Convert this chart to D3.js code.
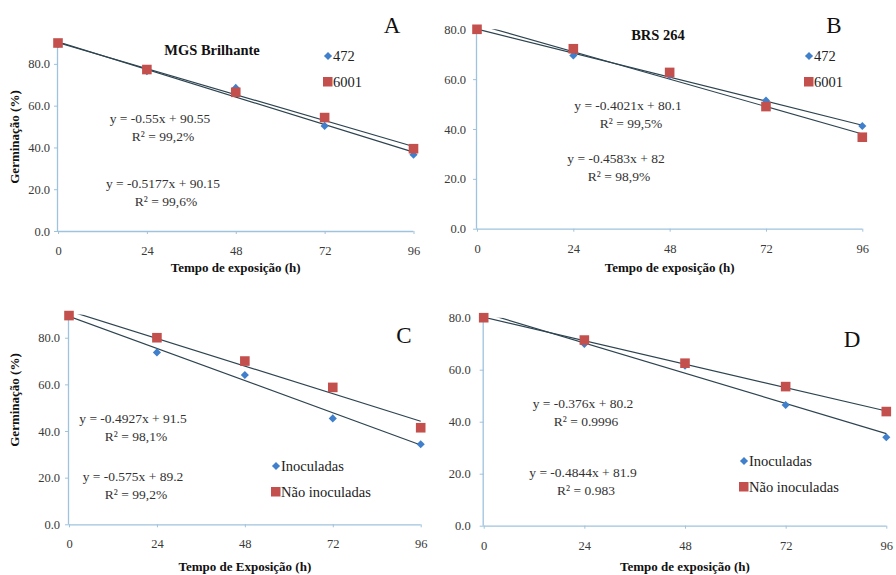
<!DOCTYPE html>
<html><head><meta charset="utf-8">
<script src="https://cdn.jsdelivr.net/npm/d3@7"></script>
<style>body{margin:0;background:#fff}svg{display:block}svg text{font-family:"Liberation Serif","Times New Roman",serif !important}</style>
</head><body><svg id="c" width="896" height="575"></svg>
<script>
// ---------- data ----------
const hours = [0, 24, 48, 72, 96];
const yTicks = [0, 20, 40, 60, 80];

const a472  = [89.5, 76.5, 68.5, 50.3, 36.5];
const a6001 = [90.0, 77.3, 66.4, 54.3, 39.4];
const b472  = [80.0, 69.5, 61.5, 51.4, 41.2];
const b6001 = [80.0, 72.2, 62.7, 49.0, 36.7];
const cInoc = [89.5, 73.7, 64.0, 45.4, 34.3];
const cNao  = [89.5, 80.0, 70.0, 58.7, 41.4];
const dInoc = [80.0, 69.9, 61.5, 46.4, 34.0];
const dNao  = [80.0, 71.4, 62.5, 53.5, 43.9];

const legendAB = ["472", "6001"];
const legendCD = ["Inoculadas", "Não inoculadas"];

// trend lines: [slope, intercept] for series1 (diamond), series2 (square)
const trendA = [[-0.55, 90.55], [-0.5177, 90.15]];
const trendB = [[-0.4021, 80.1], [-0.4583, 82]];
const trendC = [[-0.575, 89.2], [-0.4927, 91.5]];
const trendD = [[-0.4844, 81.9], [-0.376, 80.2]];

const eqA = [["y = -0.55x + 90.55", "R² = 99,2%"], ["y = -0.5177x + 90.15", "R² = 99,6%"]];
const eqB = [["y = -0.4021x + 80.1", "R² = 99,5%"], ["y = -0.4583x + 82", "R² = 98,9%"]];
const eqC = [["y = -0.4927x + 91.5", "R² = 98,1%"], ["y = -0.575x + 89.2", "R² = 99,2%"]];
const eqD = [["y = -0.376x + 80.2", "R² = 0.9996"], ["y = -0.4844x + 81.9", "R² = 0.983"]];

const titles = ["MGS Brilhante", "BRS 264", "", ""];
const letters = ["A", "B", "C", "D"];
const xTitles = ["Tempo de exposição (h)", "Tempo de exposição (h)", "Tempo de Exposição (h)", "Tempo de exposição (h)"];
const yTitle = "Germinação (%)";

// ---------- layout ----------
const panels = [
  {s1: a472, s2: a6001, tr: trendA, eq: eqA, leg: legendAB, ymax: 90, x0: 58, x1: 413.5, yb: 231, yt: 43,
   eqPos: [[160, 118], [163, 183]], legPos: [328, 56], letterPos: [392, 33], titlePos: [212, 55], xtY: 272, ytPos: [14, 137], ylabGap: 8},
  {s1: b472, s2: b6001, tr: trendB, eq: eqB, leg: legendAB, ymax: 80, x0: 477, x1: 862.3, yb: 228.7, yt: 29.3,
   eqPos: [[628, 105], [616, 158]], legPos: [809, 56], letterPos: [834, 33], titlePos: [658, 40], xtY: 272, ytPos: null, ylabGap: 11},
  {s1: cInoc, s2: cNao, tr: trendC, eq: eqC, leg: legendCD, ymax: 90, x0: 69, x1: 420.7, yb: 524.3, yt: 314.4,
   eqPos: [[133, 418], [133, 476]], legPos: [276, 466], letterPos: [404, 343], titlePos: null, xtY: 571, ytPos: [14, 400], ylabGap: 9},
  {s1: dInoc, s2: dNao, tr: trendD, eq: eqD, leg: legendCD, ymax: 80, x0: 483.7, x1: 886.3, yb: 525.7, yt: 317.7,
   eqPos: [[583, 403.5], [583, 472]], legPos: [744, 461], letterPos: [852, 347], titlePos: null, xtY: 571, ytPos: null, ylabGap: 13}
];

const blue = "#3f7fcb", red = "#c4504e", axisCol = "#9fc2dd", lineCol = "#2d4450", tickTxt = "#3a3a3a";
const FONT = "Liberation Serif";
const svg = d3.select("#c");
const diamondSym = d3.symbol().type(d3.symbolDiamond2).size(42);

panels.forEach((p, i) => {
  const x = d3.scaleLinear().domain([0, 96]).range([p.x0, p.x1]);
  const y = d3.scaleLinear().domain([0, p.ymax]).range([p.yb, p.yt]);
  const g = svg.append("g").attr("font-family", FONT);

  const cid = "clip" + i;
  svg.append("clipPath").attr("id", cid).append("rect")
    .attr("x", p.x0).attr("y", p.yt).attr("width", p.x1 - p.x0 + 1).attr("height", p.yb - p.yt);

  const yAxis = d3.axisLeft(y).tickValues(yTicks).tickFormat(d3.format(".1f")).tickSize(4).tickPadding(p.ylabGap - 4);
  const gy = g.append("g").attr("transform", `translate(${p.x0},0)`).call(yAxis);
  const xAxis = d3.axisBottom(x).tickValues(hours).tickFormat(d3.format("d")).tickSize(3).tickPadding(12);
  const gx = g.append("g").attr("transform", `translate(0,${p.yb})`).call(xAxis);
  [gx, gy].forEach(a => {
    a.attr("font-family", FONT);
    a.select(".domain").attr("stroke", axisCol).attr("stroke-width", 1.3);
    a.selectAll(".tick line").attr("stroke", axisCol);
    a.selectAll(".tick text").attr("fill", tickTxt).style("font-size", "12.5px").style("font-family", FONT);
  });
  gy.select(".domain").attr("d", `M-0.5,${p.yb}V${p.yt}`);
  gx.select(".domain").attr("d", `M${p.x0},0.5H${p.x1}`);

  p.tr.forEach(([m, b]) => {
    g.append("line").attr("clip-path", `url(#${cid})`)
      .attr("x1", x(0)).attr("y1", y(b)).attr("x2", x(96)).attr("y2", y(m * 96 + b))
      .attr("stroke", lineCol).attr("stroke-width", 1.2);
  });

  g.selectAll(".dm").data(p.s1).join("path")
    .attr("d", diamondSym).attr("transform", (d, k) => `translate(${x(hours[k])},${y(d)})`).attr("fill", blue);
  g.selectAll(".sq").data(p.s2).join("rect")
    .attr("x", (d, k) => x(hours[k]) - 4.8).attr("y", d => y(d) - 4.8)
    .attr("width", 9.6).attr("height", 9.6).attr("fill", red);

  p.eq.forEach((lines, k) => {
    const [cx, cy] = p.eqPos[k];
    lines.forEach((t, j) => {
      g.append("text").attr("x", cx + (j ? 3 : 0)).attr("y", cy + j * 18).attr("dy", "0.35em")
        .attr("text-anchor", "middle").attr("fill", "#333").style("font-family", FONT).style("font-size", "13.5px").text(t);
    });
  });

  const [lx, ly] = p.legPos;
  g.append("path").attr("d", diamondSym).attr("transform", `translate(${lx},${ly})`).attr("fill", blue);
  g.append("rect").attr("x", lx - 5).attr("y", ly + 26 - 5).attr("width", 9.5).attr("height", 9.5).attr("fill", red);
  p.leg.forEach((t, k) => {
    g.append("text").attr("x", lx + 5).attr("y", ly + k * 26).attr("dy", "0.35em")
      .attr("fill", "#222").style("font-family", FONT).style("font-size", "14.5px").text(t);
  });

  g.append("text").attr("x", p.letterPos[0]).attr("y", p.letterPos[1]).attr("text-anchor", "middle")
    .attr("fill", "#111").style("font-family", FONT).style("font-size", "23px").text(letters[i]);

  if (p.titlePos) {
    g.append("text").attr("x", p.titlePos[0]).attr("y", p.titlePos[1]).attr("text-anchor", "middle")
      .attr("fill", "#111").style("font-family", FONT).style("font-size", "14.5px").style("font-weight", "bold").text(titles[i]);
  }

  g.append("text").attr("x", (p.x0 + p.x1) / 2).attr("y", p.xtY).attr("text-anchor", "middle")
    .attr("fill", "#111").style("font-family", FONT).style("font-size", "13px").style("font-weight", "bold").text(xTitles[i]);

  if (p.ytPos) {
    g.append("text").attr("transform", `translate(${p.ytPos[0]},${p.ytPos[1]}) rotate(-90)`)
      .attr("text-anchor", "middle").attr("dy", "0.35em")
      .attr("fill", "#111").style("font-family", FONT).style("font-size", "13px").style("font-weight", "bold").text(yTitle);
  }
});
</script></body></html>
